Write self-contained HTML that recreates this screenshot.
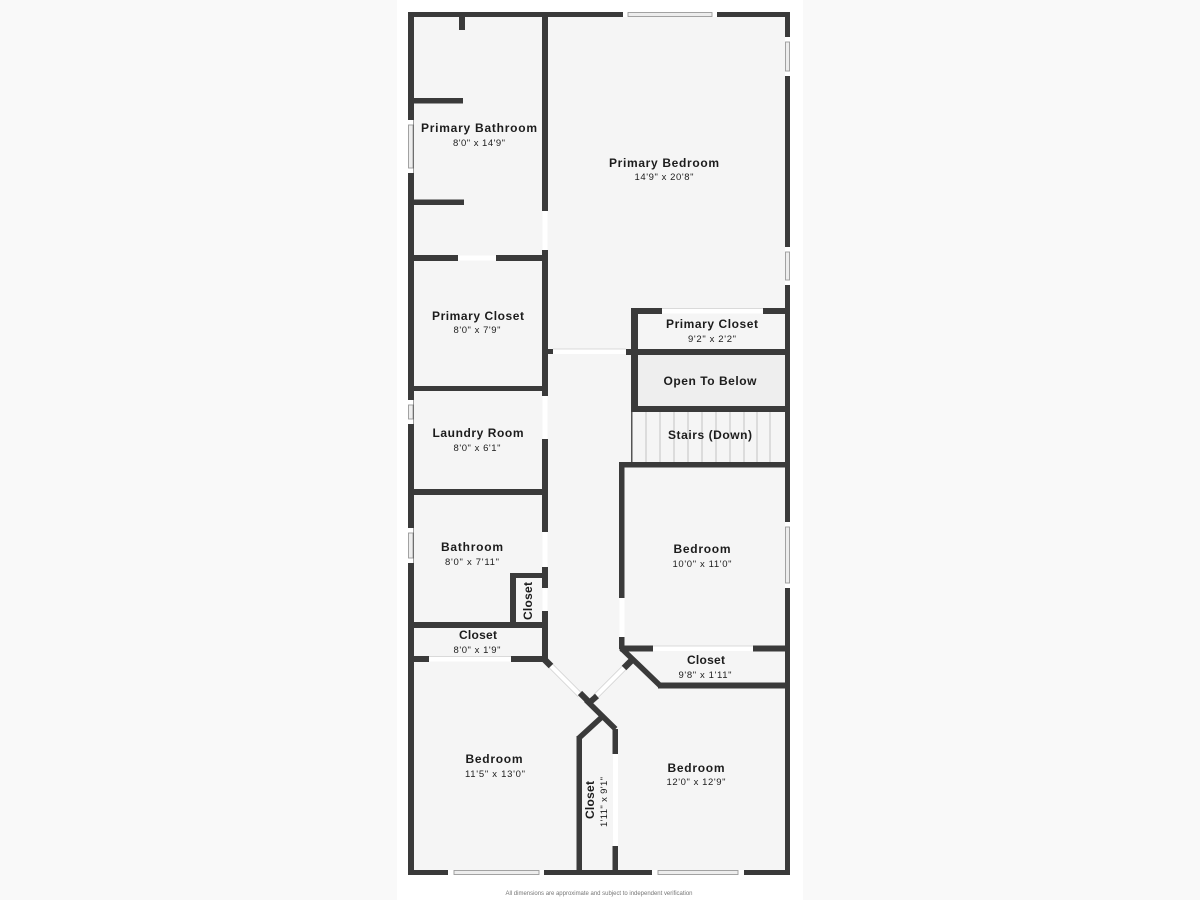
<!DOCTYPE html>
<html><head><meta charset="utf-8"><style>
html,body{margin:0;padding:0;background:#f9f9f9}
svg{display:block}
text{font-family:"Liberation Sans","DejaVu Sans",sans-serif;text-anchor:middle;fill:#1c1c1c}
.n{font-size:12px;font-weight:bold}
.d{font-size:9.5px}
</style></head><body>
<svg width="1200" height="900" viewBox="0 0 1200 900" xmlns="http://www.w3.org/2000/svg">
<rect width="1200" height="900" fill="#f9f9f9"/>
<rect x="397" y="0" width="406" height="900" fill="#fff"/>
<rect x="410" y="14" width="378" height="859" fill="#f5f5f5"/>
<rect x="636" y="353" width="150" height="55" fill="#eeeeee"/>
<!-- stairs -->
<g stroke="#c4c4c4" stroke-width="1">
<path d="M646 412V462M660 412V462M674 412V462M688 412V462M702 412V462M716 412V462M730 412V462M744 412V462M757 412V462M770 412V462"/>
</g>
<rect x="631" y="412" width="1.5" height="50" fill="#555"/>
<!-- walls -->
<g fill="#3a3a3a">
<rect x="408" y="12" width="6" height="863"/>
<rect x="408" y="12" width="382" height="5"/>
<rect x="408" y="870" width="382" height="5"/>
<rect x="785" y="12" width="5" height="863"/>
<rect x="542" y="12" width="6" height="199"/>
<rect x="542" y="250" width="6" height="146"/>
<rect x="542" y="439" width="6" height="93"/>
<rect x="542" y="567" width="6" height="21"/>
<rect x="542" y="611" width="6" height="51"/>
<rect x="459" y="17" width="6" height="13"/>
<rect x="414" y="98" width="49" height="5.5"/>
<rect x="414" y="199.500" width="50" height="5.500"/>
<rect x="414" y="255" width="44" height="6"/>
<rect x="496" y="255" width="52" height="6"/>
<rect x="414" y="386" width="130" height="5"/>
<rect x="414" y="489" width="130" height="6"/>
<rect x="510" y="573" width="34" height="5"/>
<rect x="510" y="573" width="6" height="55"/>
<rect x="414" y="622" width="130" height="6"/>
<rect x="414" y="656" width="15" height="6"/>
<rect x="511" y="656" width="37" height="6"/>
<rect x="631" y="308" width="31" height="6"/>
<rect x="763" y="308" width="24" height="6"/>
<rect x="631" y="308" width="7" height="104"/>
<rect x="626" y="349" width="160" height="6"/>
<rect x="632" y="406" width="154" height="6"/>
<rect x="548" y="349" width="5" height="5"/>
<rect x="619" y="462" width="168" height="5.500"/>
<rect x="619" y="462" width="5.500" height="136"/>
<rect x="619" y="637" width="5.500" height="12"/>
<rect x="620" y="645.500" width="33" height="6"/>
<rect x="753" y="645.500" width="33" height="6"/>
<rect x="658" y="682.500" width="128" height="6"/>
<rect x="612.500" y="729" width="5.500" height="25"/>
<rect x="612.500" y="846" width="5.500" height="25"/>
<rect x="576.500" y="736" width="5.500" height="135"/>
</g>
<!-- diagonal doors -->
<g fill="none">
<path d="M551 666L580 695M625 667L595 697" stroke="#fff" stroke-width="5"/>
<path d="M552.800 664.200L581.800 693.200M549.200 667.800L578.200 696.800M626.800 668.800L596.800 698.800M623.200 665.200L593.200 695.200" stroke="#d4d4d4" stroke-width="0.800"/>
</g>
<g stroke="#3a3a3a" fill="none" stroke-width="5.500">
<path d="M621 648L660 685.500"/>
<path d="M586 700L615.500 729"/>
<path d="M603 716L579 738"/>
<path d="M544.500 659.500L551 666" stroke-width="6.500"/>
<path d="M624 668L631 661" stroke-width="6.500"/>
<path d="M580 693L589 702" stroke-width="6"/>
<path d="M589 703L597 696" stroke-width="6"/>
</g>
<!-- openings -->
<g fill="#fff">
<rect x="542.500" y="211" width="5" height="39"/>
<rect x="458" y="255.500" width="38" height="5"/>
<rect x="542.500" y="396" width="5" height="43"/>
<rect x="542.500" y="532" width="5" height="35"/>
<rect x="542.500" y="588" width="5" height="23"/>
<rect x="429" y="656.500" width="82" height="5"/>
<rect x="662" y="308.500" width="101" height="5"/>
<rect x="553" y="349" width="73" height="5"/>
<rect x="619.500" y="598" width="5" height="39"/>
<rect x="653" y="646" width="100" height="5"/>
<rect x="613" y="754" width="5" height="92"/>
</g>
<g stroke="#d0d0d0" stroke-width="0.700">
<path d="M553 349H626M429 656.500H511M662 308.500H763M653 646H753"/>
</g>
<!-- windows -->
<g fill="#fff">
<rect x="408" y="120" width="5.500" height="53"/>
<rect x="408" y="400" width="5.500" height="24"/>
<rect x="408" y="528" width="5.500" height="35"/>
<rect x="623" y="12" width="94" height="5"/>
<rect x="785" y="37" width="5" height="39"/>
<rect x="785" y="247" width="5" height="38"/>
<rect x="785" y="522" width="5" height="66"/>
<rect x="448" y="870" width="96" height="5"/>
<rect x="652" y="870" width="92" height="5"/>
</g>
<g fill="#ededed" stroke="#999" stroke-width="0.900">
<rect x="408.500" y="125" width="4.500" height="43"/>
<rect x="408.500" y="405" width="4.500" height="14"/>
<rect x="408.500" y="533" width="4.500" height="25"/>
<rect x="628" y="12.500" width="84" height="4"/>
<rect x="785.500" y="42" width="4" height="29"/>
<rect x="785.500" y="252" width="4" height="28"/>
<rect x="785.500" y="527" width="4" height="56"/>
<rect x="454" y="870.500" width="85" height="4"/>
<rect x="658" y="870.500" width="80" height="4"/>
</g>
<!-- labels -->
<text class="n" x="479" y="132" textLength="116" lengthAdjust="spacing">Primary Bathroom</text>
<text class="d" x="479" y="146" textLength="52" lengthAdjust="spacing">8'0" x 14'9"</text>
<text class="n" x="664" y="167" textLength="110" lengthAdjust="spacing">Primary Bedroom</text>
<text class="d" x="664" y="180" textLength="59" lengthAdjust="spacing">14'9" x 20'8"</text>
<text class="n" x="478" y="320" textLength="92" lengthAdjust="spacing">Primary Closet</text>
<text class="d" x="477" y="333" textLength="47" lengthAdjust="spacing">8'0" x 7'9"</text>
<text class="n" x="712" y="328" textLength="92" lengthAdjust="spacing">Primary Closet</text>
<text class="d" x="712" y="342" textLength="48" lengthAdjust="spacing">9'2" x 2'2"</text>
<text class="n" x="710" y="385" textLength="93" lengthAdjust="spacing">Open To Below</text>
<text class="n" x="710" y="439" textLength="84" lengthAdjust="spacing">Stairs (Down)</text>
<text class="n" x="478" y="437" textLength="91" lengthAdjust="spacing">Laundry Room</text>
<text class="d" x="477" y="451" textLength="47" lengthAdjust="spacing">8'0" x 6'1"</text>
<text class="n" x="472" y="551" textLength="62" lengthAdjust="spacing">Bathroom</text>
<text class="d" x="472" y="565" textLength="54" lengthAdjust="spacing">8'0" x 7'11"</text>
<text class="n" x="702" y="553" textLength="57" lengthAdjust="spacing">Bedroom</text>
<text class="d" x="702" y="567" textLength="59" lengthAdjust="spacing">10'0" x 11'0"</text>
<text class="n" x="478" y="639" textLength="38" lengthAdjust="spacing">Closet</text>
<text class="d" x="477" y="653" textLength="47" lengthAdjust="spacing">8'0" x 1'9"</text>
<text class="n" x="706" y="664" textLength="38" lengthAdjust="spacing">Closet</text>
<text class="d" x="705" y="678" textLength="53" lengthAdjust="spacing">9'8" x 1'11"</text>
<text class="n" x="494" y="763" textLength="57" lengthAdjust="spacing">Bedroom</text>
<text class="d" x="495" y="777" textLength="60" lengthAdjust="spacing">11'5" x 13'0"</text>
<text class="n" x="696" y="772" textLength="57" lengthAdjust="spacing">Bedroom</text>
<text class="d" x="696" y="785" textLength="59" lengthAdjust="spacing">12'0" x 12'9"</text>
<text class="n" transform="translate(532 601) rotate(-90)" textLength="38" lengthAdjust="spacing">Closet</text>
<text class="n" transform="translate(594 800) rotate(-90)" textLength="38" lengthAdjust="spacing">Closet</text>
<text class="d" transform="translate(607 802) rotate(-90)" textLength="50" lengthAdjust="spacing">1'11" x 9'1"</text>
<text x="599" y="895" style="font-size:6px;fill:#777" textLength="187" lengthAdjust="spacing">All dimensions are approximate and subject to independent verification</text>
</svg>
</body></html>
